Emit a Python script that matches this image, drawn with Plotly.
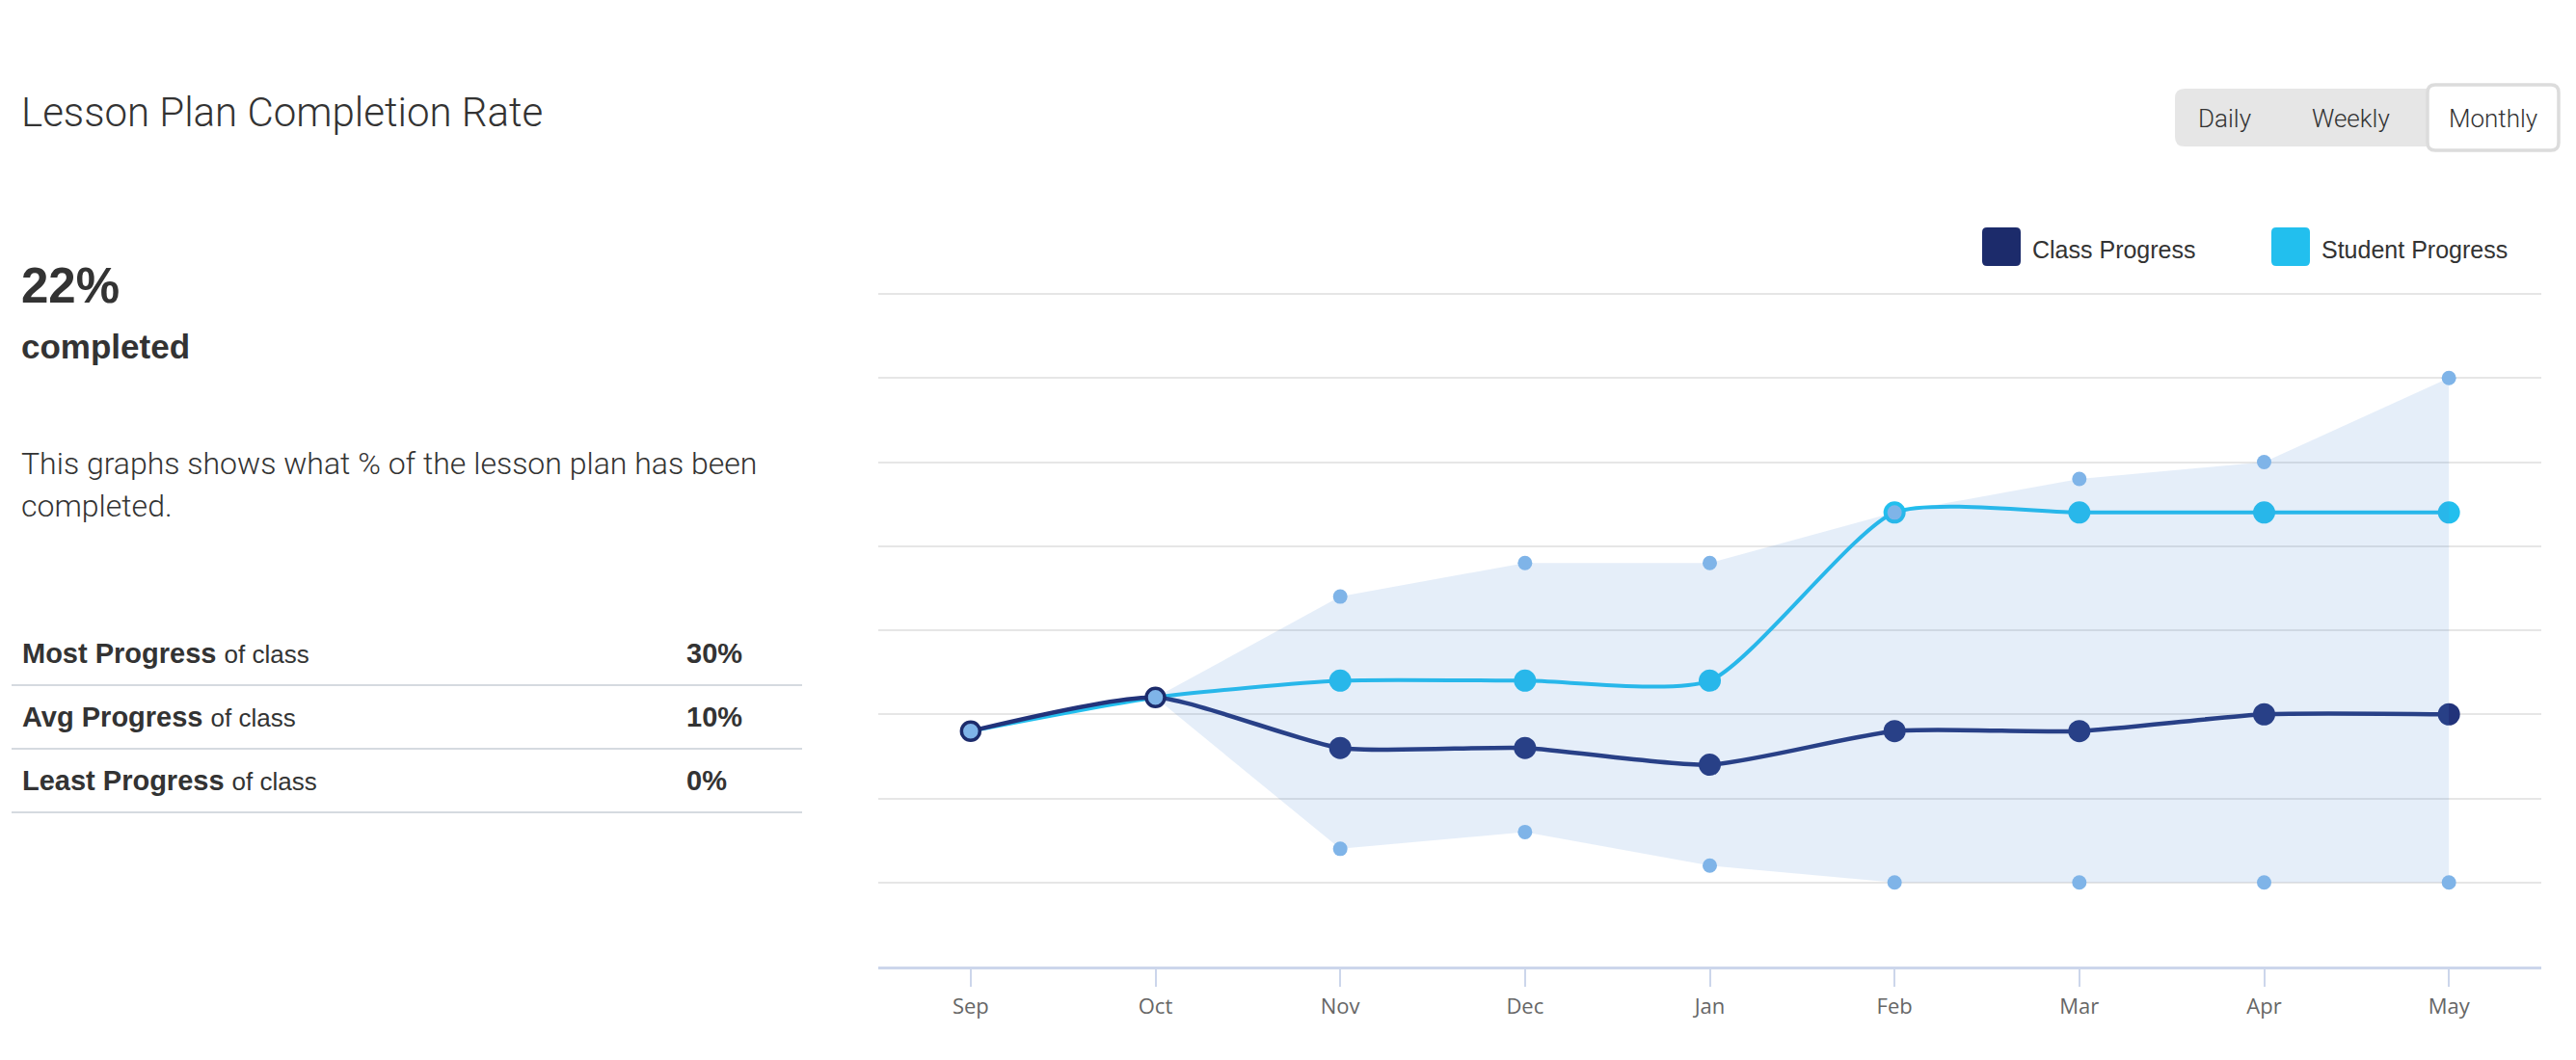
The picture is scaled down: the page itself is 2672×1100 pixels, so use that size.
import plotly.graph_objects as go

# ---------------- data ----------------
months = ["Sep", "Oct", "Nov", "Dec", "Jan", "Feb", "Mar", "Apr", "May"]
class_progress = [14, 16, 13, 13, 12, 14, 14, 15, 15]
student_progress = [14, 16, 17, 17, 17, 27, 27, 27, 27]
# class range (from Oct onwards)
range_months = ["Oct", "Nov", "Dec", "Jan", "Feb", "Mar", "Apr", "May"]
range_max = [16, 22, 24, 24, 27, 29, 30, 35]
range_min = [16, 7, 8, 6, 5, 5, 5, 5]

title_text = "Lesson Plan Completion Rate"
completed_value = "22%"
completed_label = "completed"
description_lines = ["This graphs shows what % of the lesson plan has been", "completed."]
stat_labels = ["Most Progress", "Avg Progress", "Least Progress"]
stat_values = ["30%", "10%", "0%"]
legend_names = ["Class Progress", "Student Progress"]
period_buttons = ["Daily", "Weekly", "Monthly"]

# ---------------- styling ----------------
W, H = 2672, 1100
PL, PR, PT, PB = 911, 2636, 303, 1003
Y_TOP = 40 * (PB - PT) / (PB - 305)
NAVY = "#22337A"
NAVY_LEG = "#1C2B6B"
CYAN = "#22BFEE"
DOT = "#7FB4E8"
TXT = "#333333"
BASE = "Liberation Sans, Arial, Helvetica, sans-serif"
LIGHT = "Roboto, Liberation Sans, Arial, sans-serif"
SMOOTH = 0.6


def px(x):
    return (x - PL) / (PR - PL)


def py(y):
    return (PB - y) / (PB - PT)


def rrect(x0, y0, x1, y1, r):
    pts = [
        ("M", [(x0 + r, y0)]),
        ("L", [(x1 - r, y0)]),
        ("Q", [(x1, y0), (x1, y0 + r)]),
        ("L", [(x1, y1 - r)]),
        ("Q", [(x1, y1), (x1 - r, y1)]),
        ("L", [(x0 + r, y1)]),
        ("Q", [(x0, y1), (x0, y1 - r)]),
        ("L", [(x0, y0 + r)]),
        ("Q", [(x0, y0), (x0 + r, y0)]),
    ]
    s = ""
    for cmd, ps in pts:
        s += cmd + " " + " ".join(f"{px(a):.5f},{py(b):.5f}" for a, b in ps) + " "
    return s + "Z"


fig = go.Figure()

# lines
fig.add_trace(go.Scatter(x=months, y=student_progress, mode="lines",
                         line=dict(color=CYAN, width=4, shape="spline", smoothing=SMOOTH),
                         hoverinfo="skip"))
fig.add_trace(go.Scatter(x=months, y=class_progress, mode="lines",
                         line=dict(color=NAVY, width=4.5, shape="spline", smoothing=SMOOTH),
                         hoverinfo="skip"))
# markers
fig.add_trace(go.Scatter(x=months[2:], y=student_progress[2:], mode="markers",
                         marker=dict(color=CYAN, size=23, line=dict(width=0)),
                         hoverinfo="skip"))
fig.add_trace(go.Scatter(x=months[2:], y=class_progress[2:], mode="markers",
                         marker=dict(color=NAVY, size=23, line=dict(width=0)),
                         hoverinfo="skip"))
# range band (tints what is under it)
fig.add_trace(go.Scatter(x=range_months, y=range_min, mode="lines",
                         line=dict(width=0, color="rgba(0,0,0,0)"), hoverinfo="skip"))
fig.add_trace(go.Scatter(x=range_months, y=range_max, mode="lines", fill="tonexty",
                         fillcolor="rgba(78,144,214,0.15)",
                         line=dict(width=0, color="rgba(0,0,0,0)"), hoverinfo="skip"))
# range dots
fig.add_trace(go.Scatter(x=range_months[1:], y=range_max[1:], mode="markers",
                         marker=dict(color=DOT, size=15, line=dict(width=0)), hoverinfo="skip"))
fig.add_trace(go.Scatter(x=range_months[1:], y=range_min[1:], mode="markers",
                         marker=dict(color=DOT, size=15, line=dict(width=0)), hoverinfo="skip"))
# first two points (everyone together)
fig.add_trace(go.Scatter(x=months[:2], y=class_progress[:2], mode="markers",
                         marker=dict(color=DOT, size=19, line=dict(color=NAVY_LEG, width=3.5)),
                         hoverinfo="skip"))

shapes = []
annotations = []


def ann(text, x, y, size, family=BASE, color=TXT, weight=None, xanchor="left"):
    f = dict(family=family, size=size, color=color)
    if weight is not None:
        f["weight"] = weight
    annotations.append(dict(text=text, x=px(x), y=py(y), xref="paper", yref="paper",
                            xanchor=xanchor, yanchor="middle", showarrow=False, font=f))


# left panel
ann(title_text, 20, 116, 42, family=LIGHT, weight=300)
ann(f"<b>{completed_value}</b>", 20, 297, 51)
ann(f"<b>{completed_label}</b>", 20, 359, 35)
ann(description_lines[0], 20, 481, 32, family=LIGHT, weight=300)
ann(description_lines[1], 20, 525, 32, family=LIGHT, weight=300)

row_mid = [678, 744, 810]
sep_y = [711, 777, 843]
for lab, val, ym, sy in zip(stat_labels, stat_values, row_mid, sep_y):
    ann(f"<b>{lab}</b> <span style='font-size:26px'>of class</span>", 21, ym, 29)
    ann(f"<b>{val}</b>", 710, ym, 29)
    shapes.append(dict(type="line", xref="paper", yref="paper", x0=px(12), x1=px(832),
                       y0=py(sy), y1=py(sy), line=dict(color="#D5DAE0", width=2)))

# period buttons
shapes.append(dict(type="path", xref="paper", yref="paper", path=rrect(2256, 92, 2530, 152, 10),
                   fillcolor="#E6E6E6", line=dict(width=0), layer="above"))
shapes.append(dict(type="path", xref="paper", yref="paper", path=rrect(2518, 88, 2654, 156, 8),
                   fillcolor="#FFFFFF", line=dict(color="#DCDCDC", width=3.5), layer="above"))
for lab, cx in zip(period_buttons, [2307, 2438, 2586]):
    ann(lab, cx, 123, 26, family=LIGHT, weight=300, xanchor="center")

# legend
for name, color, x0 in zip(legend_names, [NAVY_LEG, CYAN], [2056, 2356]):
    shapes.append(dict(type="path", xref="paper", yref="paper",
                       path=rrect(x0, 236, x0 + 40, 276, 5), fillcolor=color,
                       line=dict(width=0), layer="above"))
    ann(name, x0 + 50, 259, 25)

fig.update_layout(
    width=W, height=H,
    margin=dict(l=PL, r=W - PR, t=PT, b=H - PB, pad=0),
    paper_bgcolor="white", plot_bgcolor="white",
    showlegend=False,
    shapes=shapes, annotations=annotations,
    hovermode=False,
    xaxis=dict(type="category", range=[-0.5, 8.5], showgrid=False, zeroline=False,
               showline=True, linecolor="#CCD6EB", linewidth=2.5,
               ticks="outside", ticklen=18, tickwidth=2, tickcolor="#CCD6EB",
               ticklabelstandoff=2,
               tickfont=dict(family="Open Sans, DejaVu Sans, sans-serif", size=22, color="#666666"),
               fixedrange=True),
    yaxis=dict(range=[0, Y_TOP], tick0=0, dtick=5, showgrid=True, gridcolor="#E6E6E6",
               gridwidth=2, zeroline=False, showline=False, showticklabels=False,
               ticks="", fixedrange=True),
)

fig.write_html("out.html", config={"displayModeBar": False},
               post_script="document.body.style.margin='0';document.body.style.overflow='hidden';")
